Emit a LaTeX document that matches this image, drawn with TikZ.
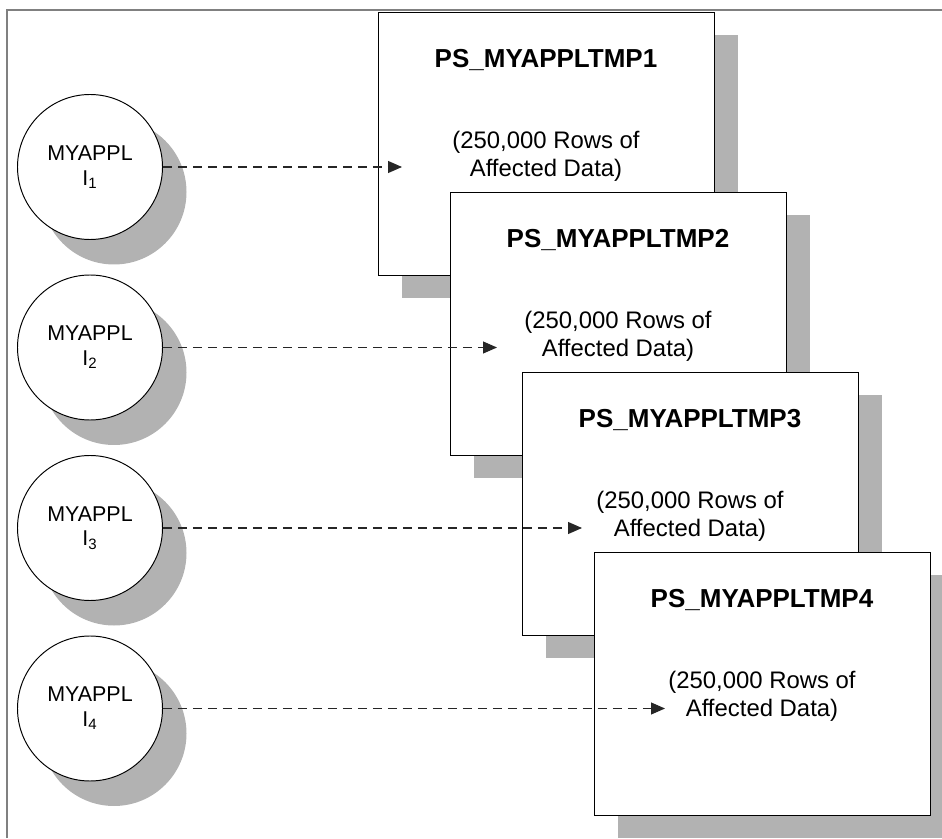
\documentclass[tikz,border=0pt]{standalone}
\usepackage{fontspec}
\setmainfont{Liberation Sans}
\usetikzlibrary{arrows.meta,shadows,calc}
\definecolor{ink}{HTML}{000000}
\definecolor{frame}{HTML}{808080}
\definecolor{shadowgray}{HTML}{B2B2B2}
\definecolor{link}{HTML}{262626}
\tikzset{
  >={Triangle[length=0.28cm,width=0.24cm]},
  inst/.style={circle, draw=ink, line width=0.55pt, fill=white, minimum size=2.9cm, inner sep=0pt,
               align=center, font=\fontsize{12.2}{14}\selectfont,
               drop shadow={shadow xshift=0.48cm, shadow yshift=-0.5cm, fill=shadowgray, opacity=1}},
  tmpbox/.style={rectangle, draw=ink, line width=0.55pt, fill=white, minimum width=6.72cm,
                 minimum height=5.26cm, inner sep=0pt,
                 drop shadow={shadow xshift=0.48cm, shadow yshift=-0.46cm, fill=shadowgray, opacity=1}},
  title/.style={font=\fontsize{14.8}{17}\selectfont\bfseries},
  rows/.style={font=\fontsize{13.6}{15.8}\selectfont, align=center},
  flow/.style={->, draw=link, line width=0.6pt, dash pattern=on 0.19cm off 0.11cm},
}

\begin{document}
\begin{tikzpicture}
\useasboundingbox (0,0) rectangle (18.84,16.76);

% open frame round the figure
\draw[frame, line width=1.1pt] (0.14,0) -- (0.14,16.56) -- (18.84,16.56);

% temp tables, back to front
\foreach \k in {1,...,4}{
  \node[tmpbox] (tmp\k) at ({10.92+1.44*(\k-1)},{13.89-3.6*(\k-1)}) {};
  \node[title] (name\k) at ($(tmp\k.north)+(0,-0.96)$) {PS\_MYAPPLTMP\k};
  \node[rows] (rows\k) at ($(tmp\k.center)+(0,-0.25)$) {(250,000 Rows of\\Affected Data)};
}

% instances and their loads
\foreach \i/\y/\x in {1/13.42/8.04, 2/9.81/9.94, 3/6.20/11.64, 4/2.59/13.30}{
  \node[inst] (inst\i) at (1.8,\y) {MYAPPL\\I\textsubscript{\i}};
  \coordinate (tip\i) at (\x,\y);
  \draw[flow] (inst\i.east) -- (tip\i);
}

\end{tikzpicture}
\end{document}
